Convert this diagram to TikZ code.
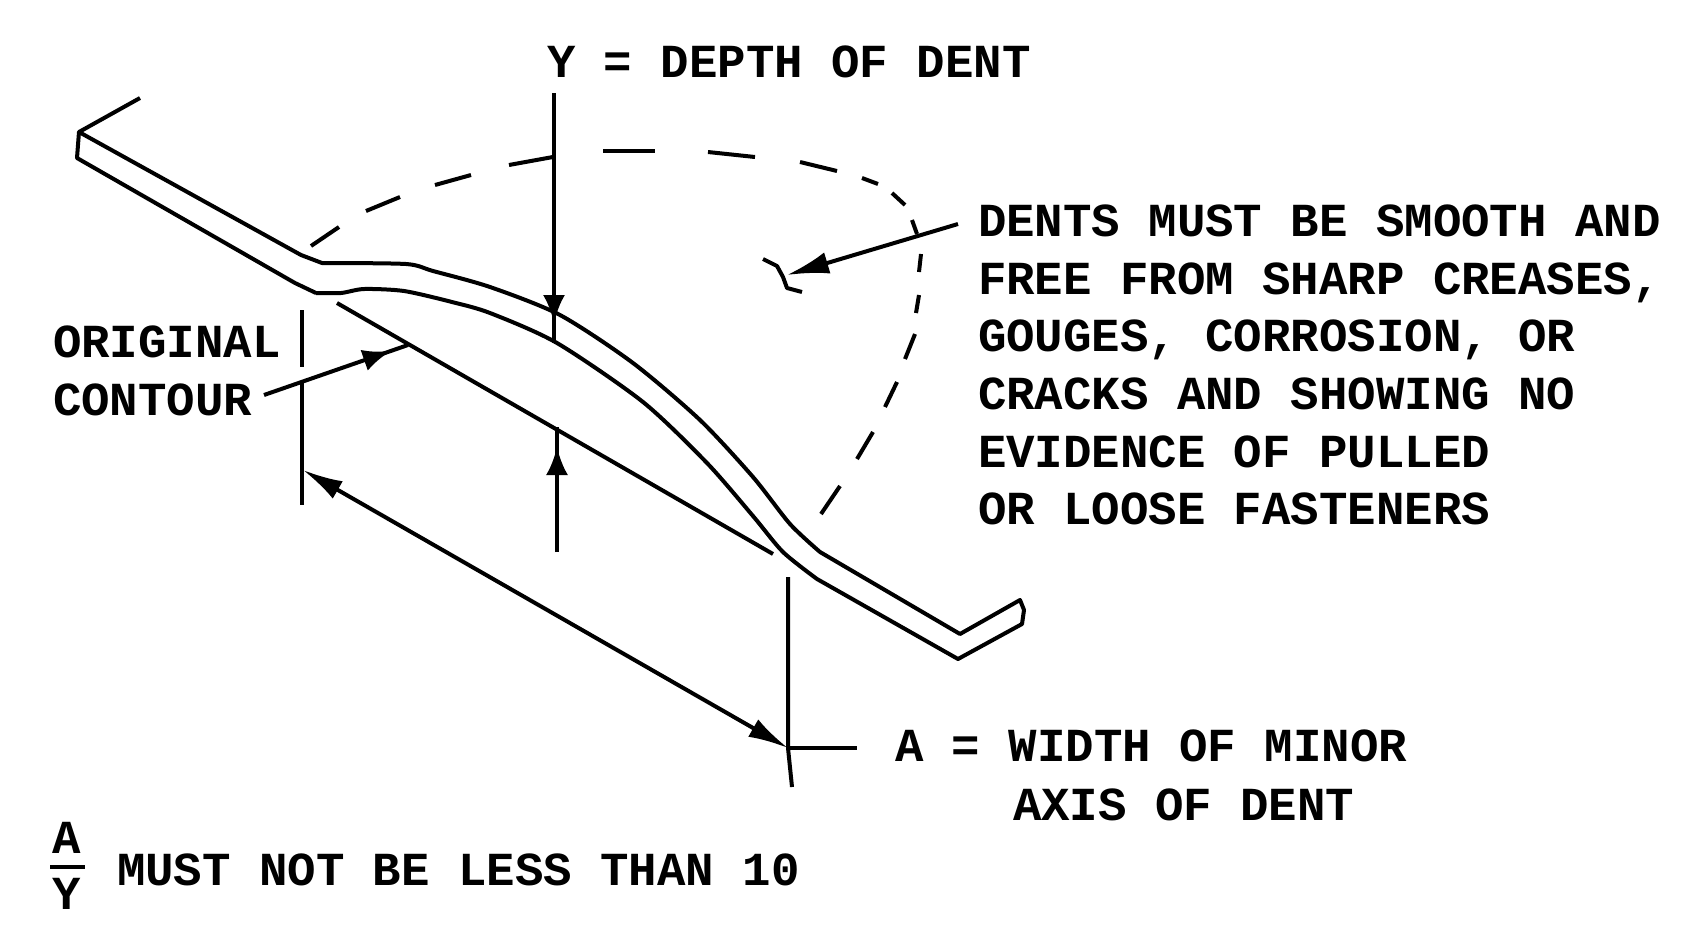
\documentclass[tikz,border=0pt]{standalone}
\usepackage{fontspec}
\setmonofont{Liberation Mono}
\usepackage{tikz}
\usetikzlibrary{arrows.meta,decorations.markings}
\tikzset{
  midtip/.style={postaction={decorate,decoration={markings,
    mark=at position #1 with {\arrow{Latex[length=14pt,width=11pt]}}}}},
  note/.style={anchor=west,inner sep=0pt,align=left,
    font=\fontsize{23.7}{28.85}\selectfont\ttfamily\bfseries}
}
\begin{document}
\begin{tikzpicture}[x=.5pt,y=-.5pt,line width=2pt,line join=round,>=Latex]
  \useasboundingbox (0,0) rectangle (1691,944);
  % sheet
  \draw (140,98) -- (79,132) -- (77,158)
    -- (295,283) -- (316,293) plot[smooth,tension=.45] coordinates {(316,293) (341,293) (364,289) (404,291) (452,302)
      (490,313) (557,343) (643,402) (707,463) (753,516) (783,552) (817,579)}
    -- (958,659) -- (1022,624) -- (1024,610) -- (1020,600) -- (960,634) -- (820,552)
    plot[smooth,tension=.45] coordinates {(820,552) (790,524) (753,477) (700,420) (633,363) (560,315)
      (490,287) (433,271) (406,264) (322,263)}
    -- (301,255) -- (79,132);
  % original contour
  \coordinate (contourl) at (337,303);
  \coordinate (contourr) at (773,554);
  \draw (contourl) -- (contourr);
  % outline of the dent
  \foreach \xa/\ya/\xb/\yb in {311/246/339/227,366/211/400/197,435/185/471/175,509/165/553/157,
    603/151/655/151,708/152/755/157,800/162/837/171,862/178/878/184,892/193/905/205,
    912/220/917/234,921/254/919/272,919/295/916/313,915/334/905/359,897/382/885/407,
    873/432/857/459,840/486/821/514}
    \draw (\xa,\ya) -- (\xb,\yb);
  \draw (763,259) -- (777,266) -- (783,277) -- (787,288) -- (802,292);
  % labels
  \node[note] (depth) at (545,62) {Y = DEPTH OF DENT};
  \node[note] (smooth) at (976,365) {DENTS MUST BE SMOOTH AND\\FREE FROM SHARP CREASES,\\GOUGES, CORROSION, OR\\CRACKS AND SHOWING NO\\EVIDENCE OF PULLED\\OR LOOSE FASTENERS};
  \node[note] (original) at (51,371) {ORIGINAL\\CONTOUR};
  \node[note] (width) at (893,746) {A = WIDTH OF MINOR};
  \node[note] (axis) at (1011,805) {AXIS OF DENT};
  \node[note] (ratio) at (115,870) {MUST NOT BE LESS THAN 10};
  \node[note,anchor=center] (ratioa) at (67,838) {A};
  \node[note,anchor=center] (ratioy) at (67,894) {Y};
  \coordinate (barl) at (50,867);
  \coordinate (barr) at (85,867);
  \draw (barl) -- (barr);
  % depth
  \coordinate (deptht) at (554,93);
  \coordinate (depthb) at (554,343);
  \coordinate (rises) at (557,552);
  \coordinate (riset) at (557,427);
  \draw[midtip=.92] (deptht) -- (depthb);
  \draw[midtip=.84] (rises) -- (riset);
  % leaders
  \coordinate (leadcontour) at (264,395);
  \coordinate (tipcontour) at (408,345);
  \draw[midtip=.88] (leadcontour) -- (tipcontour);
  \coordinate (leadsmooth) at (958,224);
  \coordinate (tipsmooth) at (787,275);
  \draw[->,>={Latex[length=21pt,width=11pt]}] (leadsmooth) -- (tipsmooth);
  % width of dent
  \coordinate (wita) at (302,310);
  \coordinate (witb) at (302,367);
  \coordinate (witc) at (302,383);
  \coordinate (witd) at (302,505);
  \coordinate (wite) at (788,577);
  \coordinate (witf) at (788,748);
  \coordinate (witg) at (792,787);
  \coordinate (dimt) at (303,470);
  \coordinate (leadwidth) at (857,748);
  \draw (wita) -- (witb);
  \draw (witc) -- (witd);
  \draw (wite) -- (witf) -- (witg);
  \draw (witf) -- (leadwidth);
  \draw[{Latex[length=20pt,width=10pt]}-{Latex[length=20pt,width=10pt]}] (dimt) -- (witf);
\end{tikzpicture}
\end{document}
